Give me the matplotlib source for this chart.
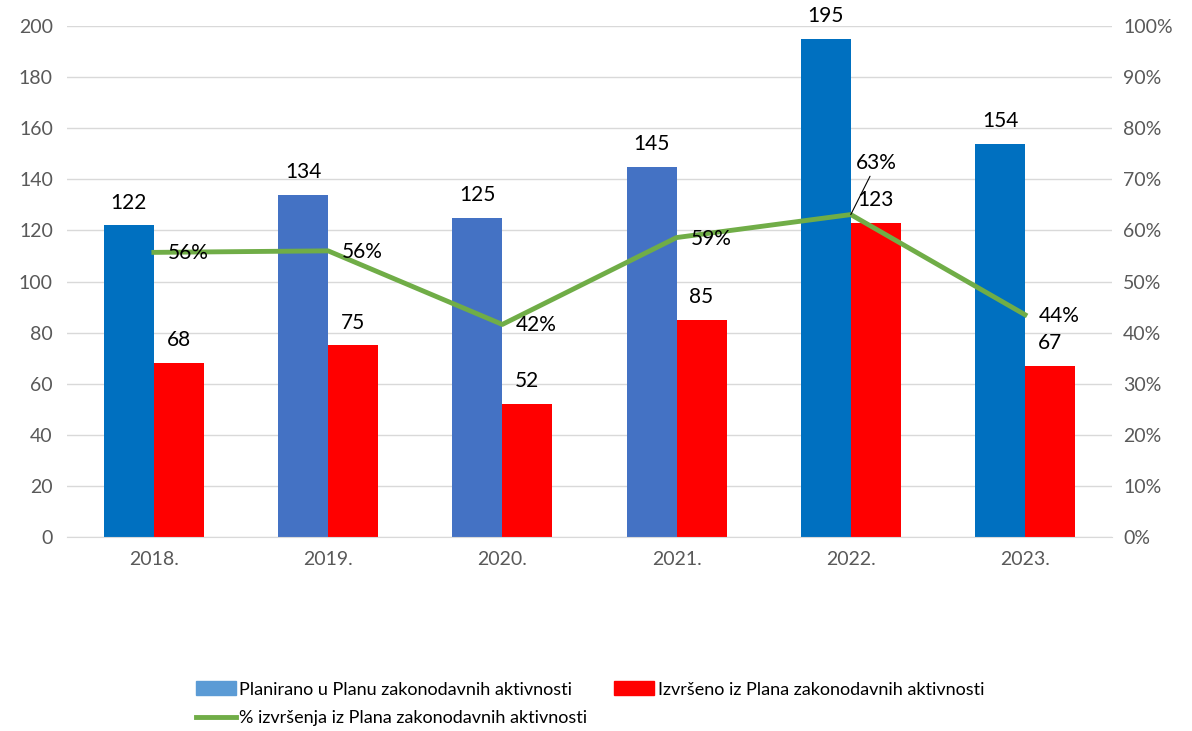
import matplotlib
matplotlib.use("Agg")
import matplotlib.pyplot as plt
import numpy as np
from matplotlib.patches import Patch
from matplotlib.lines import Line2D

plt.rcParams["font.family"] = ["Lato", "DejaVu Sans"]

years = ["2018.", "2019.", "2020.", "2021.", "2022.", "2023."]
planned = [122, 134, 125, 145, 195, 154]
done = [68, 75, 52, 85, 123, 67]
pct = [0.557, 0.560, 0.416, 0.586, 0.631, 0.435]
pct_labels = ["56%", "56%", "42%", "59%", "63%", "44%"]
planned_colors = ["#0070C0", "#4472C4", "#4472C4", "#4472C4", "#0070C0", "#0070C0"]

fig = plt.figure(figsize=(11.92, 7.31), dpi=100)
ax = fig.add_axes([0.056, 0.2654, 0.877, 0.699])
ax2 = ax.twinx()

x = np.arange(len(years))
w = 0.287
ax.bar(x - w / 2, planned, w, color=planned_colors, zorder=2)
ax.bar(x + w / 2, done, w, color="#FF0000", zorder=2)

for xi, v in zip(x, planned):
    ax.text(xi - w / 2, v + 5, str(v), ha="center", va="bottom", fontsize=15, color="black")
for xi, v in zip(x, done):
    ax.text(xi + w / 2, v + 5, str(v), ha="center", va="bottom", fontsize=15, color="black")

ax2.plot(x, pct, color="#70AD47", lw=3.5, zorder=3)
for i, (xi, p, lab) in enumerate(zip(x, pct, pct_labels)):
    if i == 4:
        ax2.annotate(lab, xy=(xi, p), xytext=(xi + 0.03, p + 0.1), fontsize=15,
                     ha="left", va="center",
                     arrowprops=dict(arrowstyle="-", color="black", lw=0.8,
                                     shrinkA=0, shrinkB=0))
    else:
        ax2.text(xi + 0.08, p - 0.002, lab, ha="left", va="center", fontsize=15)

ax.set_xlim(-0.5, len(years) - 0.5)
ax.set_ylim(0, 200)
ax.set_yticks(np.arange(0, 201, 20))
ax2.set_ylim(0, 1)
ax2.set_yticks(np.arange(0, 1.01, 0.1))
ax2.set_yticklabels([f"{int(round(t * 100))}%" for t in np.arange(0, 1.01, 0.1)])
ax.set_xticks(x)
ax.set_xticklabels(years)

ax.grid(axis="y", color="#D9D9D9", lw=1, zorder=0)
ax.set_axisbelow(True)
for a in (ax, ax2):
    for s in a.spines.values():
        s.set_visible(False)
    a.tick_params(length=0, labelsize=14, colors="#595959")
ax.spines["bottom"].set_visible(True)
ax.spines["bottom"].set_color("#D9D9D9")
ax.tick_params(axis="x", pad=10)
ax.tick_params(axis="y", pad=10)
ax2.tick_params(axis="y", pad=8)

handles = [
    Patch(color="#5B9BD5", label="Planirano u Planu zakonodavnih aktivnosti"),
    Line2D([0], [0], color="#70AD47", lw=3.5, label="% izvršenja iz Plana zakonodavnih aktivnosti"),
    Patch(color="#FF0000", label="Izvršeno iz Plana zakonodavnih aktivnosti"),
]
fig.legend(handles=handles, ncol=2, loc="center", bbox_to_anchor=(0.495, 0.037),
           frameon=False, fontsize=13, handlelength=2.2, handleheight=0.8,
           handletextpad=0.2, columnspacing=1.5, labelspacing=0.7)

fig.savefig("out.png", dpi=100)
